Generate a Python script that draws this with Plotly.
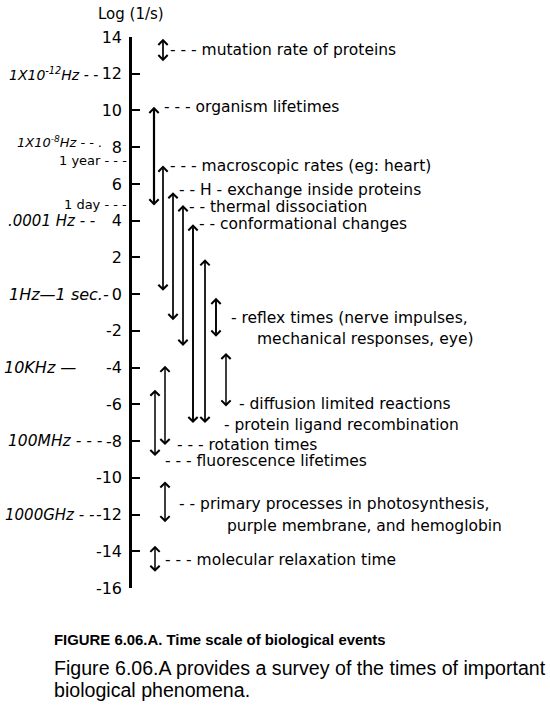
import plotly.graph_objects as go

# Biological events on a log10(time / s) scale: upper and lower ends of each span
events = [
    "mutation rate of proteins",
    "organism lifetimes",
    "macroscopic rates (eg: heart)",
    "H-exchange inside proteins",
    "thermal dissociation",
    "conformational changes",
    "protein ligand recombination",
    "reflex times",
    "diffusion limited reactions",
    "rotation times",
    "fluorescence lifetimes",
    "primary processes",
    "molecular relaxation time",
]
log_high = [13.9, 10.2, 7.0, 5.55, 4.85, 3.8, 1.9, -0.2, -3.2, -3.9, -5.2, -10.2, -13.7]
log_low = [12.6, 4.75, 0.1, -1.5, -2.9, -7.1, -7.1, -2.4, -6.2, -8.3, -8.9, -12.5, -15.2]

# Axis ticks
tick_values = list(range(-16, 15, 2))
tick_labels = [str(v) for v in tick_values]

# Text labels and the log value each one sits at
label_text = [
    "- - - mutation rate of proteins",
    "- - - organism lifetimes",
    "- - - macroscopic rates (eg: heart)",
    "- - H - exchange inside proteins",
    "- - thermal dissociation",
    "- - conformational changes",
    "- reflex times (nerve impulses,",
    "mechanical responses, eye)",
    "- diffusion limited reactions",
    "- protein ligand recombination",
    "- - - rotation times",
    "- - - fluorescence lifetimes",
    "- - primary processes in photosynthesis,",
    "purple membrane, and hemoglobin",
    "- - - molecular relaxation time",
]
label_at = [13.3, 10.2, 7.0, 5.67, 4.77, 3.8, -1.3, -2.45, -6.0, -7.1, -8.2, -9.1, -11.4, -12.6, -14.5]

# Frequency / duration notes written beside the axis, with their log values
note_text = [
    "1X10<sup>-12</sup>Hz - -",
    "1X10<sup>-8</sup>Hz - - .",
    ".0001 Hz - -",
    "1Hz—1 sec.-",
    "10KHz —",
    "100MHz - - -",
    "1000GHz - -",
    "500A°",
]
note_at = [12, 8.3, 4, 0, -4, -8, -12, -16.1]
marker_text = ["1 year - - -", "1 day - - -"]
marker_at = [7.3, 4.9]

# ---- drawing style / placement (pixel units along x) ----
lane_x = [163, 154, 163, 173, 183, 193, 205, 216, 226, 165, 155, 165, 155]
lane_width = [1.7, 2.2, 1.7, 1.7, 1.7, 1.9, 1.7, 1.9, 1.5, 1.5, 1.5, 1.5, 1.5]
label_x = [168, 162, 168, 177, 187, 197, 229, 255, 237, 222, 175, 163, 177, 225, 163]
note_right = [100, 104, 97, 111, 78, 105, 96, 62]
note_size = [14, 13, 15, 16, 16, 15.5, 15, 16]
marker_right = [129, 129]

W, H = 550, 709
TOP, BOTTOM = 37, 588
FONT = "DejaVu Sans"
HAND = "DejaVu Sans"
CAPTION = "Liberation Sans"
LABEL_SIZE = 15.5


def paper_y(py):
    return (BOTTOM - py) / (BOTTOM - TOP)


annotations = []

# double-headed span arrows
for x, hi, lo, w in zip(lane_x, log_high, log_low, lane_width):
    annotations.append(dict(
        x=x, y=hi, ax=x, ay=lo, xref="x", yref="y", axref="x", ayref="y",
        text="", showarrow=True, arrowhead=4, startarrowhead=4,
        arrowside="end+start", arrowsize=1.8 / w, startarrowsize=1.8 / w,
        arrowwidth=w, arrowcolor="black", standoff=0, startstandoff=0,
    ))

for t, x, y in zip(label_text, label_x, label_at):
    annotations.append(dict(
        x=x, y=y, xref="x", yref="y", text=t, showarrow=False,
        xanchor="left", yanchor="middle",
        font=dict(family=FONT, size=LABEL_SIZE, color="black"),
    ))

for t, x, y, s in zip(note_text, note_right, note_at, note_size):
    annotations.append(dict(
        x=x, y=y, xref="x", yref="y", text=t, showarrow=False,
        xanchor="right", yanchor="middle",
        font=dict(family=HAND, size=s, color="black", style="italic"),
    ))

for t, x, y in zip(marker_text, marker_right, marker_at):
    annotations.append(dict(
        x=x, y=y, xref="x", yref="y", text=t, showarrow=False,
        xanchor="right", yanchor="middle",
        font=dict(family=FONT, size=13, color="black"),
    ))

# Axis title and caption
annotations.append(dict(
    x=131, y=paper_y(14), xref="x", yref="paper", text="Log (1/s)",
    showarrow=False, xanchor="center", yanchor="middle",
    font=dict(family=FONT, size=15, color="black"),
))
annotations.append(dict(
    x=52, y=paper_y(640), xref="x", yref="paper",
    text="<b>FIGURE 6.06.A. Time scale of biological events</b>",
    showarrow=False, xanchor="left", yanchor="middle",
    font=dict(family=CAPTION, size=14.9, color="black"),
))
annotations.append(dict(
    x=52, y=paper_y(668), xref="x", yref="paper",
    text="Figure 6.06.A provides a survey of the times of important",
    showarrow=False, xanchor="left", yanchor="middle",
    font=dict(family=CAPTION, size=19.6, color="black"),
))
annotations.append(dict(
    x=52, y=paper_y(690), xref="x", yref="paper",
    text="biological phenomena.",
    showarrow=False, xanchor="left", yanchor="middle",
    font=dict(family=CAPTION, size=19.6, color="black"),
))

fig = go.Figure()
fig.add_trace(go.Scatter(x=[], y=[], mode="markers", showlegend=False))

fig.update_layout(
    width=W, height=H, autosize=False,
    margin=dict(l=0, r=0, t=TOP, b=H - BOTTOM, pad=0),
    paper_bgcolor="white", plot_bgcolor="white",
    showlegend=False,
    xaxis=dict(range=[0, W], visible=False, fixedrange=True),
    yaxis=dict(
        range=[-16, 14], anchor="free", position=130 / W, side="left",
        showline=True, linewidth=2.5, linecolor="black",
        ticks="inside", ticklen=8, tickwidth=2, tickcolor="black",
        tickvals=tick_values, ticktext=tick_labels,
        tickfont=dict(family=FONT, size=16, color="black"),
        ticklabelstandoff=4,
        showgrid=False, zeroline=False, fixedrange=True,
    ),
    annotations=annotations,
)

fig.write_html("out.html")
